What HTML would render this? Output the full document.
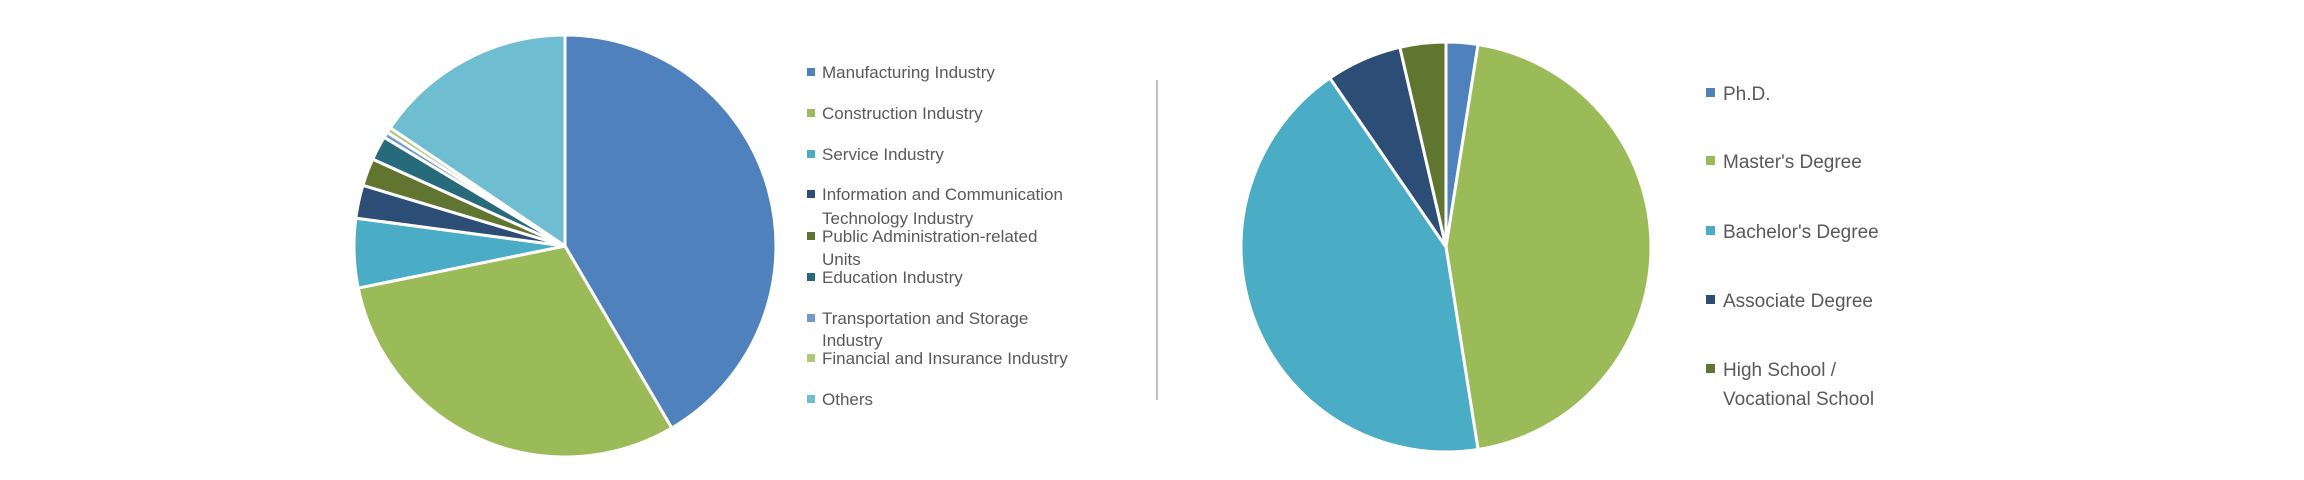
<!DOCTYPE html>
<html><head><meta charset="utf-8"><style>
html,body{margin:0;padding:0;background:#fff;}
svg{display:block;}
text{font-family:"Liberation Sans",sans-serif;fill:#595959;}
</style></head><body>
<svg width="2304" height="480" viewBox="0 0 2304 480" xmlns="http://www.w3.org/2000/svg">
<rect width="2304" height="480" fill="#fff"/>
<g id="left" stroke="#fff" stroke-width="3" stroke-linejoin="round"></g>
<g id="right" stroke="#fff" stroke-width="3" stroke-linejoin="round"></g>
<line x1="1157" y1="80" x2="1157" y2="400" stroke="#7f7f7f" stroke-width="1"/>
<g font-size="17">
<rect x="807" y="68" width="8" height="8" fill="#4F81BD"/><text x="822" y="78">Manufacturing Industry</text>
<rect x="807" y="109" width="8" height="8" fill="#9BBB59"/><text x="822" y="119">Construction Industry</text>
<rect x="807" y="150" width="8" height="8" fill="#4BACC6"/><text x="822" y="160">Service Industry</text>
<rect x="807" y="190" width="8" height="8" fill="#2C4D75"/><text x="822" y="200">Information and Communication</text>
<text x="822" y="224">Technology Industry</text>
<rect x="807" y="232" width="8" height="8" fill="#5F7530"/><text x="822" y="242">Public Administration-related</text>
<text x="822" y="265">Units</text>
<rect x="807" y="273" width="8" height="8" fill="#276A7C"/><text x="822" y="283">Education Industry</text>
<rect x="807" y="314" width="8" height="8" fill="#729ACA"/><text x="822" y="324">Transportation and Storage</text>
<text x="822" y="346">Industry</text>
<rect x="807" y="354" width="8" height="8" fill="#AFC97A"/><text x="822" y="364">Financial and Insurance Industry</text>
<rect x="807" y="395" width="8" height="8" fill="#6FBDD1"/><text x="822" y="405">Others</text>
</g>
<g font-size="19">
<rect x="1706" y="88" width="9" height="9" fill="#4F81BD"/><text x="1723" y="100">Ph.D.</text>
<rect x="1706" y="156" width="9" height="9" fill="#9BBB59"/><text x="1723" y="168">Master's Degree</text>
<rect x="1706" y="226" width="9" height="9" fill="#4BACC6"/><text x="1723" y="238">Bachelor's Degree</text>
<rect x="1706" y="295" width="9" height="9" fill="#2C4D75"/><text x="1723" y="307">Associate Degree</text>
<rect x="1706" y="364" width="9" height="9" fill="#5F7530"/><text x="1723" y="376">High School /</text>
<text x="1723" y="405">Vocational School</text>
</g>
</svg>
<script>
function pie(id,cx,cy,r,ends,cols){
  var g=document.getElementById(id),a0=0,s="";
  for(var i=0;i<ends.length;i++){
    var a1=ends[i];
    var p=function(a){var t=a*Math.PI/180;return (cx+r*Math.sin(t)).toFixed(2)+","+(cy-r*Math.cos(t)).toFixed(2);};
    var large=(a1-a0)>180?1:0;
    s+='<path d="M'+cx+','+cy+' L'+p(a0)+' A'+r+','+r+' 0 '+large+' 1 '+p(a1)+' Z" fill="'+cols[i]+'"/>';
    a0=a1;
  }
  g.innerHTML=s;
}
pie("left",565,246,211,[149.6,258.5,277.6,286.7,294.3,301,302.6,304.1,360],
 ["#4F81BD","#9BBB59","#4BACC6","#2C4D75","#5F7530","#276A7C","#729ACA","#AFC97A","#6FBDD1"]);
pie("right",1446,247,205,[9,171,325.5,347,360],
 ["#4F81BD","#9BBB59","#4BACC6","#2C4D75","#5F7530"]);
</script>
</body></html>
